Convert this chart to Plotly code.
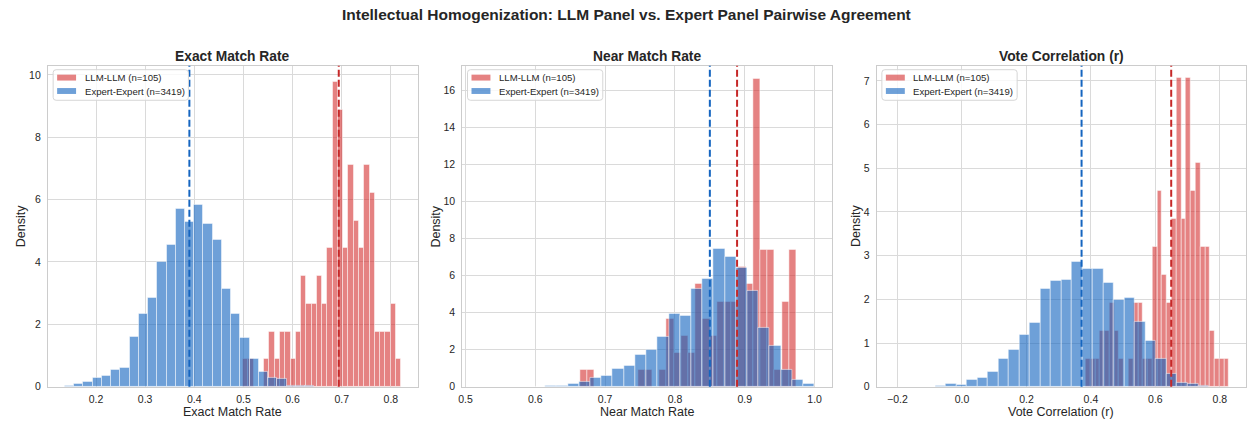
import numpy as np
import plotly.graph_objects as go

# ---------------- data ----------------
n_llm = 105
n_expert = 3419

panel_titles = ["Exact Match Rate", "Near Match Rate", "Vote Correlation (r)"]
series_names = [f"LLM-LLM (n={n_llm})", f"Expert-Expert (n={n_expert})"]

# Exact match rate
exact_llm_range = (0.499, 0.8207)
exact_llm_counts = [1, 1, 0, 0, 1, 2, 1, 2, 2, 1, 2, 4, 3, 3, 4, 3, 5, 11, 10, 5,
                    8, 6, 5, 8, 7, 2, 2, 2, 3, 1]
exact_expert_range = (0.1365, 0.644)
exact_expert_density = [0.04, 0.09, 0.17, 0.30, 0.36, 0.55, 0.62, 1.60, 2.35, 2.84,
                        4.00, 4.54, 5.70, 5.30, 5.82, 5.22, 4.70, 3.15, 2.35, 1.57,
                        0.90, 0.49, 0.30, 0.26, 0.04, 0.04, 0.02]
exact_means = {"llm": 0.694, "expert": 0.390}

# Near match rate
near_llm_range = (0.6642, 0.9738)
near_llm_counts = [1, 1, 0, 0, 0, 0, 0, 0, 1, 1, 0, 1, 4, 2, 3, 2, 6, 4, 3, 5,
                   5, 5, 7, 6, 18, 8, 8, 1, 5, 8]
near_expert_range = (0.518, 1.0)
near_expert_density = [0.0, 0.02, 0.0, 0.02, 0.0, 0.0, 0.07, 0.07, 0.14, 0.28,
                       0.50, 0.62, 0.96, 1.15, 1.75, 2.00, 2.70, 3.95, 3.83, 5.27,
                       5.85, 7.43, 7.02, 6.44, 5.16, 3.21, 2.20, 0.90, 0.39, 0.14]
near_means = {"llm": 0.889, "expert": 0.850}

# Vote correlation
vote_llm_range = (0.3833, 0.8284)
vote_llm_counts = [1, 1, 1, 2, 2, 3, 2, 1, 0, 1, 3, 3, 1, 1, 5, 7, 4, 3, 6, 11,
                   6, 11, 7, 8, 5, 5, 2, 1, 1, 1]
vote_expert_range = (-0.0825, 0.765)
vote_expert_density = [0.03, 0.06, 0.05, 0.17, 0.21, 0.35, 0.65, 0.84, 1.20, 1.47,
                       2.25, 2.43, 2.46, 2.85, 2.70, 2.70, 2.39, 2.00, 2.03, 1.48,
                       1.05, 0.63, 0.30, 0.10, 0.06, 0.02]
vote_means = {"llm": 0.649, "expert": 0.371}

panels = [
    (exact_llm_range, exact_llm_counts, exact_expert_range, exact_expert_density, exact_means),
    (near_llm_range, near_llm_counts, near_expert_range, near_expert_density, near_means),
    (vote_llm_range, vote_llm_counts, vote_expert_range, vote_expert_density, vote_means),
]

# axis view windows and ticks
x_views = [(0.102, 0.8546), (0.4954, 1.0247), (-0.2647, 0.881)]
y_views = [10.29, 17.32, 7.345]
x_dticks = [0.1, 0.1, 0.2]
y_dticks = [2, 2, 1]

# ---------------- styling ----------------
W, H = 1249, 427
FONT = "Liberation Sans, Arial, sans-serif"
TXT = "#262626"
GRID = "#dadada"
RED_FILL = "rgba(211,47,47,0.6)"
BLUE_FILL = "rgba(21,101,192,0.62)"
EDGE = "rgba(255,255,255,0.7)"
RED_LINE = "#C62828"
BLUE_LINE = "#1565C0"

# plot-area pixel boxes
x_px = [(44, 415), (459.7, 830.5), (875.4, 1246)]
y_top_px, y_bot_px = 66.7, 392.3
density_label_offset = [27, 26, 20]


def px_x(p):
    return p / W


def px_y(p):
    return 1 - p / H


def hist_bars(rng, heights):
    edges = np.linspace(rng[0], rng[1], len(heights) + 1)
    width = edges[1] - edges[0]
    centers = edges[:-1] + width / 2
    return centers, width


def rounded_box(x0, y0, x1, y1, r):
    """SVG path (paper coords) for a rounded rectangle given in pixels."""
    X = lambda p: px_x(p)
    Y = lambda p: px_y(p)
    return (f"M {X(x0 + r)},{Y(y0)} L {X(x1 - r)},{Y(y0)} Q {X(x1)},{Y(y0)} {X(x1)},{Y(y0 + r)} "
            f"L {X(x1)},{Y(y1 - r)} Q {X(x1)},{Y(y1)} {X(x1 - r)},{Y(y1)} "
            f"L {X(x0 + r)},{Y(y1)} Q {X(x0)},{Y(y1)} {X(x0)},{Y(y1 - r)} "
            f"L {X(x0)},{Y(y0 + r)} Q {X(x0)},{Y(y0)} {X(x0 + r)},{Y(y0)} Z")


fig = go.Figure()
layout = dict()
shapes = []
annotations = []

for i, (lr, lc, er, ed, means) in enumerate(panels):
    k = "" if i == 0 else str(i + 1)
    xa, ya = "x" + k, "y" + k

    lc_arr = np.array(lc, dtype=float)
    l_centers, l_w = hist_bars(lr, lc)
    l_density = lc_arr / (n_llm * l_w)
    e_centers, e_w = hist_bars(er, ed)

    fig.add_trace(go.Bar(
        x=l_centers, y=l_density, width=l_w,
        marker=dict(color=RED_FILL, line=dict(color=EDGE, width=0.7)),
        name=series_names[0], xaxis=xa, yaxis=ya, showlegend=False,
    ))
    fig.add_trace(go.Bar(
        x=e_centers, y=ed, width=e_w,
        marker=dict(color=BLUE_FILL, line=dict(color=EDGE, width=0.7)),
        name=series_names[1], xaxis=xa, yaxis=ya, showlegend=False,
    ))

    # mean lines
    for key, col in (("llm", RED_LINE), ("expert", BLUE_LINE)):
        shapes.append(dict(
            type="line", xref=xa, yref=f"{ya} domain", x0=means[key], x1=means[key],
            y0=0, y1=1, line=dict(color=col, width=2, dash="7px,3px"), layer="above",
        ))

    x0p, x1p = x_px[i]
    layout["xaxis" + k] = dict(
        domain=[px_x(x0p), px_x(x1p)], range=list(x_views[i]), anchor=ya,
        dtick=x_dticks[i], tick0=0, tickformat=".1f",
        showgrid=True, gridcolor=GRID, gridwidth=1, zeroline=False,
        showline=True, linecolor="#cccccc", linewidth=1, mirror=True,
        ticks="", tickfont=dict(size=10.5, color=TXT, family=FONT),
        ticklabelstandoff=3,
    )
    layout["yaxis" + k] = dict(
        domain=[px_y(y_bot_px), px_y(y_top_px)], range=[0, y_views[i]], anchor=xa,
        dtick=y_dticks[i], tick0=0,
        showgrid=True, gridcolor=GRID, gridwidth=1, zeroline=False,
        showline=True, linecolor="#cccccc", linewidth=1, mirror=True,
        ticks="", tickfont=dict(size=10.5, color=TXT, family=FONT),
        ticklabelstandoff=4,
    )

    # legend box in the upper-left corner of each panel
    bx0, bx1 = x0p + 5.3, x0p + 141
    by0, by1 = y_top_px + 4, y_top_px + 35
    shapes.append(dict(
        type="path", xref="paper", yref="paper", path=rounded_box(bx0, by0, bx1, by1, 3),
        fillcolor="rgba(255,255,255,0.8)", line=dict(color="#d6d6d6", width=1), layer="above",
    ))
    for j, (fill, name) in enumerate(zip((RED_FILL, BLUE_FILL), series_names)):
        cy = by0 + 8 + j * 13.6
        shapes.append(dict(
            type="rect", xref="paper", yref="paper",
            x0=px_x(bx0 + 4), x1=px_x(bx0 + 23), y0=px_y(cy - 3), y1=px_y(cy + 3),
            fillcolor=fill, line=dict(width=0), layer="above",
        ))
        annotations.append(dict(
            text=name, x=px_x(bx0 + 29.5), y=px_y(cy), xref="paper", yref="paper",
            xanchor="left", yanchor="middle", showarrow=False,
            font=dict(size=9.6, color=TXT, family=FONT),
        ))

    cx = px_x((x0p + x1p) / 2)
    annotations.append(dict(
        text=f"<b>{panel_titles[i]}</b>", x=cx, y=px_y(57), xref="paper", yref="paper",
        xanchor="center", yanchor="middle", showarrow=False,
        font=dict(size=13.8, color=TXT, family=FONT),
    ))
    annotations.append(dict(
        text=panel_titles[i], x=cx, y=px_y(418), xref="paper", yref="paper",
        xanchor="center", yanchor="middle", showarrow=False,
        font=dict(size=12.5, color=TXT, family=FONT),
    ))
    annotations.append(dict(
        text="Density", x=px_x(x0p - density_label_offset[i]),
        y=px_y((y_top_px + y_bot_px) / 2),
        xref="paper", yref="paper", xanchor="center", yanchor="middle",
        textangle=-90, showarrow=False,
        font=dict(size=12.5, color=TXT, family=FONT),
    ))

annotations.append(dict(
    text="<b>Intellectual Homogenization: LLM Panel vs. Expert Panel Pairwise Agreement</b>",
    x=0.5, y=px_y(15), xref="paper", yref="paper", xanchor="center", yanchor="middle",
    showarrow=False, font=dict(size=15.5, color=TXT, family=FONT),
))

fig.update_layout(
    width=W, height=H, margin=dict(l=0, r=0, t=0, b=0),
    paper_bgcolor="white", plot_bgcolor="white",
    barmode="overlay", bargap=0, showlegend=False,
    shapes=shapes, annotations=annotations,
    font=dict(family=FONT, color=TXT),
    **layout,
)

fig.write_html("out.html")
